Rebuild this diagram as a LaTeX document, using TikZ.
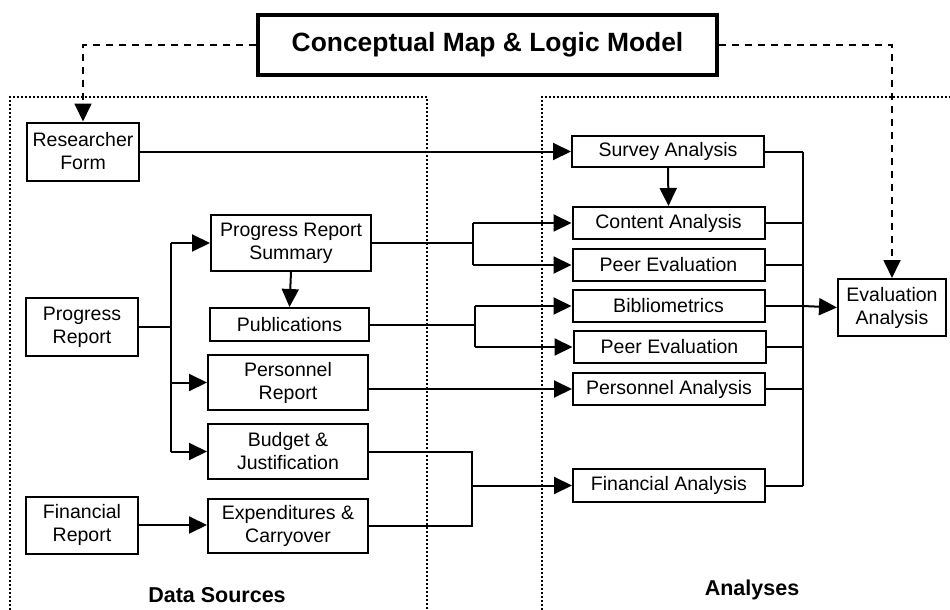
\documentclass[tikz,border=0pt]{standalone}
\usepackage{fontspec}
\setmainfont{Liberation Sans}
\usetikzlibrary{arrows.meta}
\begin{document}
\begin{tikzpicture}[x=1pt,y=-1pt,
  box/.style={draw,line width=2pt,inner sep=0pt,align=center,font=\fontsize{19.5}{23}\selectfont},
  conn/.style={line width=2pt},
  arr/.style={conn,-{Triangle[length=18pt,width=17pt]}},
  dasharr/.style={line width=1.8pt,dash pattern=on 7pt off 6pt,-{Triangle[length=18pt,width=17pt]}},
  frame/.style={line width=2.2pt,dash pattern=on 2pt off 2pt},
  lbl/.style={font=\bfseries\fontsize{21.5}{25}\selectfont,anchor=base}]
\useasboundingbox (0,0) rectangle (950,610);
\fill[white] (0,0) rectangle (950,610);
% frames
\draw[frame] (10,610) -- (10,97) -- (427,97) -- (427,610);
\draw[frame] (542,610) -- (542,97) -- (950,97);
% title
\node[draw,line width=3.5pt,minimum width=459pt,minimum height=60pt,inner sep=0pt,font=\bfseries\fontsize{26.4}{30}\selectfont] (title) at (487.5,45) {Conceptual Map \& Logic Model};
% data sources
\node[box,minimum width=112pt,minimum height=58pt] (rf) at (83,151.5) {Researcher\\Form};
\node[box,minimum width=112pt,minimum height=58pt] (pr) at (82,327) {Progress\\Report};
\node[box,minimum width=112pt,minimum height=57pt] (fr) at (82,525) {Financial\\Report};
\node[box,minimum width=160pt,minimum height=56pt] (prs) at (291,243) {Progress Report\\Summary};
\node[box,minimum width=159pt,minimum height=33pt] (pub) at (289.5,324.5) {Publications};
\node[box,minimum width=160pt,minimum height=55pt] (perr) at (288,382.5) {Personnel\\Report};
\node[box,minimum width=160pt,minimum height=55pt] (bud) at (288,451.5) {Budget \&\\Justification};
\node[box,minimum width=160pt,minimum height=54pt] (exp) at (288,526) {Expenditures \&\\Carryover};
% analyses
\node[box,minimum width=192pt,minimum height=31pt] (sa) at (668,151.5) {Survey Analysis};
\node[box,minimum width=192pt,minimum height=32pt] (ca) at (668.5,223) {Content Analysis};
\node[box,minimum width=192pt,minimum height=32pt] (pe1) at (668.5,265) {Peer Evaluation};
\node[box,minimum width=192pt,minimum height=32pt] (bib) at (668.5,306) {Bibliometrics};
\node[box,minimum width=192pt,minimum height=32pt] (pe2) at (669.5,347) {Peer Evaluation};
\node[box,minimum width=192pt,minimum height=32pt] (pa) at (669,389) {Personnel Analysis};
\node[box,minimum width=192pt,minimum height=33pt] (fa) at (669,485.5) {Financial Analysis};
\node[box,minimum width=108pt,minimum height=57pt] (ea) at (892,307.5) {Evaluation\\Analysis};
% labels
\node[lbl] (ds) at (217,602) {Data Sources};
\node[lbl] (an) at (752,595) {Analyses};
% dashed from title
\draw[dasharr] (title.west) -| (rf.north);
\draw[dasharr] (title.east) -| (ea.north);
% researcher form
\draw[arr] (rf.east) -- (sa.west);
\draw[arr] (sa.south) -- (ca.north);
% progress report tree
\coordinate (pb) at (171,327);
\draw[conn] (pr.east) -- (pb);
\draw[conn] (pb |- prs.west) -- (pb |- bud.west);
\draw[arr] (pb |- prs.west) -- (prs.west);
\draw[arr] (pb |- perr.west) -- (perr.west);
\draw[arr] (pb |- bud.west) -- (bud.west);
\draw[arr] (prs.south) -- (pub.north);
\draw[arr] (fr.east) -- (fr.east -| exp.west);
% PRS bracket
\coordinate (b1) at (473,243);
\draw[conn] (prs.east) -- (b1);
\draw[conn] (b1 |- ca.west) -- (b1 |- pe1.west);
\draw[arr] (b1 |- ca.west) -- (ca.west);
\draw[arr] (b1 |- pe1.west) -- (pe1.west);
% publications bracket
\coordinate (b2) at (475,324.5);
\draw[conn] (pub.east) -- (b2);
\draw[conn] (b2 |- bib.west) -- (b2 |- pe2.west);
\draw[arr] (b2 |- bib.west) -- (bib.west);
\draw[arr] (b2 |- pe2.west) -- (pe2.west);
% personnel
\draw[arr] (perr.east |- pa.west) -- (pa.west);
% financial bracket
\coordinate (b3) at (472,485.5);
\draw[conn] (bud.east) -- (b3 |- bud.east) -- (b3 |- exp.east) -- (exp.east);
\draw[arr] (b3) -- (fa.west);
% right bus
\coordinate (rb) at (803,306);
\draw[conn] (rb |- sa.east) -- (rb |- fa.east);
\foreach \n in {sa,ca,pe1,bib,pe2,pa,fa} {\draw[conn] (\n.east) -- (rb |- \n.east);}
\draw[arr] (rb |- bib.east) -- (ea.west);
\end{tikzpicture}
\end{document}
